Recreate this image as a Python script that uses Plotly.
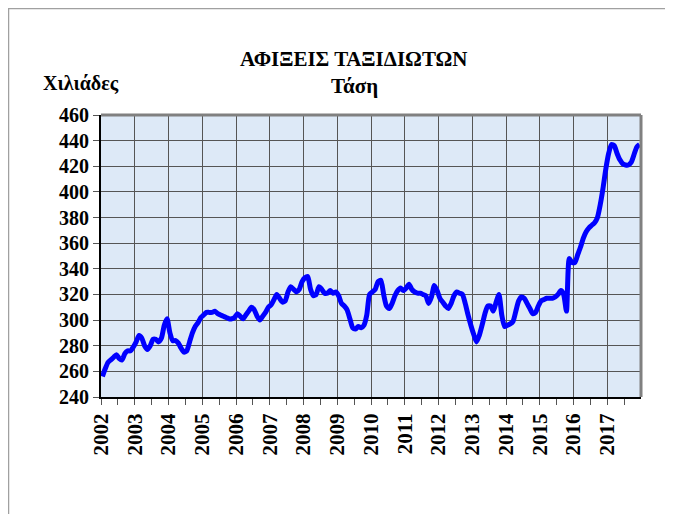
import plotly.graph_objects as go

years = [str(y) for y in range(2002, 2018)]

v2002 = [256, 262, 267, 269, 271, 273, 270, 269, 274, 276, 276, 279]
v2003 = [283, 288, 286, 280, 277, 280, 285, 285, 283, 286, 296, 301]
v2004 = [290, 284, 284, 282, 278, 275, 276, 283, 290, 295, 298, 302]
v2005 = [304, 306, 306, 306, 307, 305, 304, 303, 302, 301, 301, 302]
v2006 = [305, 303, 301, 304, 307, 310, 308, 303, 300, 303, 306, 310]
v2007 = [312, 316, 320, 317, 314, 315, 322, 326, 324, 322, 324, 330]
v2008 = [333, 334, 324, 319, 320, 326, 324, 321, 321, 323, 321, 322]
v2009 = [319, 313, 311, 308, 301, 294, 293, 295, 294, 296, 304, 320]
v2010 = [322, 324, 330, 331, 320, 311, 309, 313, 319, 323, 325, 323]
v2011 = [325, 328, 324, 322, 321, 321, 320, 319, 313, 318, 327, 323]
v2012 = [317, 314, 311, 309, 313, 319, 322, 321, 320, 313, 304, 296]
v2013 = [289, 283, 288, 296, 305, 311, 311, 307, 314, 320, 304, 295]
v2014 = [296, 297, 299, 307, 315, 318, 317, 313, 309, 305, 306, 311]
v2015 = [315, 316, 317, 317, 317, 318, 320, 323, 320, 307, 348, 345]
v2016 = [345, 351, 357, 364, 369, 372, 374, 376, 380, 390, 403, 418]
v2017 = [430, 437, 436, 430, 425, 422, 421, 421, 423, 429, 435, 437]

values = (v2002 + v2003 + v2004 + v2005 + v2006 + v2007 + v2008 + v2009 +
          v2010 + v2011 + v2012 + v2013 + v2014 + v2015 + v2016 + v2017)
months = [i + 0.5 for i in range(len(values))]

fig = go.Figure()
fig.add_trace(go.Scatter(
    x=months, y=values, mode="lines",
    line=dict(color="#0000ff", width=5, shape="spline", smoothing=0.6),
    hoverinfo="skip", showlegend=False,
))

# page body has an 8px margin, so figure coordinates = screen - 8
OFF = 8
W, H = 673 - OFF, 514 - OFF
L, R, T, B = 101 - OFF, 641 - OFF, 115 - OFF, 397 - OFF
def px(x):
    return (x - OFF - L) / (R - L)
def py(y):
    return (B - (y - OFF)) / (B - T)

SERIF = "Liberation Serif"

fig.update_layout(
    width=W, height=H,
    margin=dict(l=L, r=W - R, t=T, b=H - B, pad=0),
    paper_bgcolor="white",
    plot_bgcolor="#dde9f7",
    font=dict(family=SERIF, color="black"),
    xaxis=dict(
        range=[0, 192],
        tickvals=[12 * i for i in range(len(years))],
        ticktext=["<b>%s</b>" % y for y in years],
        tickangle=-90,
        tickfont=dict(size=21, family=SERIF, color="black"),
        ticks="outside", ticklen=6, tickcolor="#555555", tickwidth=1,
        showgrid=True, gridcolor="#555555", gridwidth=1,
        showline=True, linecolor="black", linewidth=2,
        zeroline=False,
        minor=dict(tickvals=[6 + 12 * i for i in range(len(years))],
                   ticks="outside", ticklen=6, tickcolor="#555555",
                   showgrid=False),
        fixedrange=True,
    ),
    yaxis=dict(
        range=[240, 460],
        tickvals=list(range(240, 461, 20)),
        ticktext=["<b>%d</b>" % v for v in range(240, 461, 20)],
        tickfont=dict(size=20, family=SERIF, color="black"),
        ticks="outside", ticklen=6, tickcolor="#555555", tickwidth=1,
        showgrid=True, gridcolor="#555555", gridwidth=1,
        showline=True, linecolor="black", linewidth=2,
        zeroline=False,
        fixedrange=True,
    ),
    shapes=[
        dict(type="line", xref="paper", yref="paper", x0=0, x1=1, y0=1, y1=1,
             line=dict(color="#808080", width=3)),
        dict(type="line", xref="paper", yref="paper", x0=1, x1=1, y0=0, y1=1,
             line=dict(color="#808080", width=3)),
        dict(type="rect", xref="paper", yref="paper",
             x0=px(8.5), x1=px(666), y0=py(540), y1=py(8.5),
             line=dict(color="#a0a0a0", width=1.5), fillcolor="rgba(0,0,0,0)",
             layer="below"),
    ],
    annotations=[
        dict(text="<b>ΑΦΙΞΕΙΣ ΤΑΞΙΔΙΩΤΩΝ</b>", xref="paper", yref="paper",
             x=px(354), y=py(59), showarrow=False,
             font=dict(size=21, family=SERIF, color="black"),
             xanchor="center", yanchor="middle"),
        dict(text="<b>Τάση</b>", xref="paper", yref="paper",
             x=px(354), y=py(86), showarrow=False,
             font=dict(size=21, family=SERIF, color="black"),
             xanchor="center", yanchor="middle"),
        dict(text="<b>Χιλιάδες</b>", xref="paper", yref="paper",
             x=px(81), y=py(83), showarrow=False,
             font=dict(size=20, family=SERIF, color="black"),
             xanchor="center", yanchor="middle"),
    ],
)

fig.write_html("out.html")
